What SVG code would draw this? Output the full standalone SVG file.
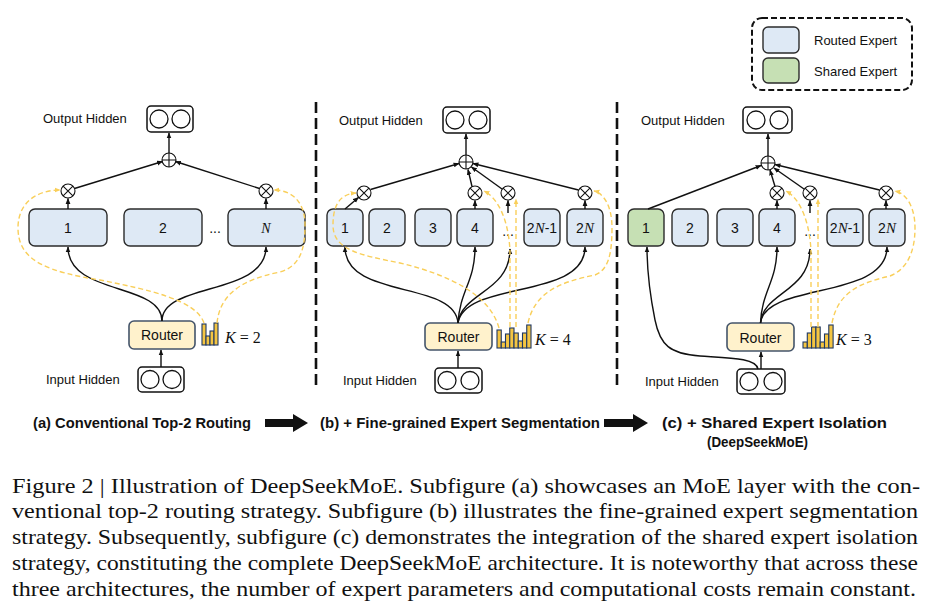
<svg xmlns="http://www.w3.org/2000/svg" width="943" height="616" viewBox="0 0 943 616">
<style>
.lbl{font-family:"Liberation Sans",Arial,sans-serif;font-size:13px;fill:#111}
.num{font-family:"Liberation Sans",Arial,sans-serif;font-size:14px;fill:#111;text-anchor:middle}
.math{font-family:"Liberation Serif","Times New Roman",serif;font-style:italic}
.mr{font-family:"Liberation Serif","Times New Roman",serif;font-size:16px;fill:#111}
.exp{fill:#dee9f5;stroke:#2b2b2b;stroke-width:1.4}
.shr{fill:#c6e0b4;stroke:#2b2b2b;stroke-width:1.4}
.rtr{fill:#fff2cc;stroke:#44546a;stroke-width:1.6}
.hid{fill:#fff;stroke:#111;stroke-width:1.5}
.circ{fill:#fff;stroke:#111;stroke-width:1.3}
.op{fill:#fff;stroke:#111;stroke-width:1.1}
.ln{fill:none;stroke:#111;stroke-width:1.4}
.ya{fill:none;stroke:#f9cf5a;stroke-width:1.4;stroke-dasharray:5 3}
.bar{fill:#f4c542;stroke:#1f3864;stroke-width:1.1}
.sep{stroke:#111;stroke-width:2.6;stroke-dasharray:11 5}
.bot{font-family:"Liberation Sans",Arial,sans-serif;font-size:15.5px;font-weight:bold;fill:#111}
.cap{font-family:"Liberation Serif","Times New Roman",serif;font-size:21.5px;fill:#111}
</style>
<defs>
<marker id="ah" viewBox="0 0 10 10" refX="9" refY="5" markerWidth="6" markerHeight="6" markerUnits="userSpaceOnUse" orient="auto"><path d="M0,1 L10,5 L0,9 z" fill="#111"/></marker>
<marker id="ay" viewBox="0 0 10 10" refX="9" refY="5" markerWidth="6" markerHeight="6" markerUnits="userSpaceOnUse" orient="auto"><path d="M0,1 L10,5 L0,9 z" fill="#f9cf5a"/></marker>
<g id="otimes"><circle r="7" class="op"/><path d="M-4.9,-4.9 L4.9,4.9 M-4.9,4.9 L4.9,-4.9" stroke="#111" stroke-width="1.1"/></g>
<g id="oplus"><circle r="7" class="op"/><path d="M-7,0 L7,0 M0,-7 L0,7" stroke="#111" stroke-width="1.1"/></g>
</defs>

<!-- separators -->
<line x1="316" y1="102" x2="316" y2="386" class="sep"/>
<line x1="617" y1="102" x2="617" y2="386" class="sep"/>

<!-- legend -->
<g id="legend">
<rect x="752" y="18" width="160" height="72" rx="10" fill="none" stroke="#111" stroke-width="2" stroke-dasharray="6 3"/>
<rect x="763" y="27" width="36" height="26" rx="5" class="exp"/>
<rect x="763" y="58" width="36" height="25" rx="5" class="shr"/>
<text x="814" y="45" class="lbl">Routed Expert</text>
<text x="814" y="76" class="lbl">Shared Expert</text>
</g>

<!-- ===== Panel (a) ===== -->
<g id="a-output"><text x="43" y="123" class="lbl">Output Hidden</text>
<rect x="147" y="106" width="46" height="26" rx="4" class="hid"/><circle cx="159" cy="119" r="9" class="circ"/><circle cx="181" cy="119" r="9" class="circ"/></g>
<g id="a-plus"><use href="#oplus" x="169" y="160"/></g>
<g id="a-mul1"><use href="#otimes" x="68" y="191"/></g>
<g id="a-mul2"><use href="#otimes" x="266" y="191"/></g>
<g id="a-e1"><rect x="29" y="209" width="78" height="37" rx="6" class="exp"/><text x="68" y="233" class="num">1</text></g>
<g id="a-e2"><rect x="124" y="209" width="78" height="37" rx="6" class="exp"/><text x="163" y="233" class="num">2</text></g>
<text x="215" y="233" class="num">...</text>
<g id="a-eN"><rect x="228" y="209" width="77" height="37" rx="6" class="exp"/><text x="266" y="233" class="num math" font-family="Liberation Serif" font-size="15">N</text></g>
<g id="a-router"><rect x="129" y="321" width="66" height="28" rx="5" class="rtr"/><text x="162" y="340" class="num">Router</text></g>
<g id="a-bars"><rect x="202" y="324" width="4" height="21" class="bar"/><rect x="206" y="336" width="4" height="9" class="bar"/><rect x="210" y="331" width="4" height="14" class="bar"/><rect x="214" y="323" width="4" height="22" class="bar"/></g>
<text x="225" y="343" class="mr"><tspan class="math">K</tspan> = 2</text>
<g id="a-input"><text x="46" y="384" class="lbl">Input Hidden</text>
<rect x="138" y="367" width="46" height="25" rx="4" class="hid"/><circle cx="150" cy="379.5" r="9" class="circ"/><circle cx="172" cy="379.5" r="9" class="circ"/></g>

<!-- ===== Panel (b) ===== -->
<g id="b-output"><text x="339" y="125" class="lbl">Output Hidden</text>
<rect x="443" y="107" width="47" height="26" rx="4" class="hid"/><circle cx="455" cy="120" r="9" class="circ"/><circle cx="478" cy="120" r="9" class="circ"/></g>
<g id="b-plus"><use href="#oplus" x="466" y="162"/></g>
<g id="b-mul1"><use href="#otimes" x="364" y="193"/></g>
<g id="b-mul4"><use href="#otimes" x="475" y="193"/></g>
<g id="b-muld"><use href="#otimes" x="508" y="193"/></g>
<g id="b-mul2N"><use href="#otimes" x="585" y="193"/></g>
<g id="b-e1"><rect x="327" y="209" width="36" height="37" rx="6" class="exp"/><text x="345" y="233" class="num">1</text></g>
<g id="b-e2"><rect x="369" y="209" width="36" height="37" rx="6" class="exp"/><text x="387" y="233" class="num">2</text></g>
<g id="b-e3"><rect x="415" y="209" width="36" height="37" rx="6" class="exp"/><text x="433" y="233" class="num">3</text></g>
<g id="b-e4"><rect x="457" y="209" width="36" height="37" rx="6" class="exp"/><text x="475" y="233" class="num">4</text></g>
<text x="508" y="236" class="num">...</text>
<g id="b-e2N-1"><rect x="524" y="209" width="36" height="37" rx="6" class="exp"/><text x="542" y="233" class="num">2<tspan class="math" font-family="Liberation Serif" font-size="15">N</tspan>-1</text></g>
<g id="b-e2N"><rect x="567" y="209" width="36" height="37" rx="6" class="exp"/><text x="585" y="233" class="num">2<tspan class="math" font-family="Liberation Serif" font-size="15">N</tspan></text></g>
<g id="b-router"><rect x="425" y="323" width="67" height="27" rx="5" class="rtr"/><text x="458.5" y="342" class="num">Router</text></g>
<g id="b-bars">
<rect x="497" y="330" width="4.25" height="18" class="bar"/><rect x="501.25" y="342" width="4.25" height="6" class="bar"/><rect x="505.5" y="334" width="4.25" height="14" class="bar"/><rect x="509.75" y="328" width="4.25" height="20" class="bar"/><rect x="514" y="333" width="4.25" height="15" class="bar"/><rect x="518.25" y="341" width="4.25" height="7" class="bar"/><rect x="522.5" y="333" width="4.25" height="15" class="bar"/><rect x="526.75" y="325" width="4.25" height="23" class="bar"/></g>
<text x="535" y="345" class="mr"><tspan class="math">K</tspan> = 4</text>
<g id="b-input"><text x="343" y="385" class="lbl">Input Hidden</text>
<rect x="435" y="368" width="47" height="25" rx="4" class="hid"/><circle cx="447" cy="380.5" r="9" class="circ"/><circle cx="470" cy="380.5" r="9" class="circ"/></g>

<!-- ===== Panel (c) ===== -->
<g id="c-output"><text x="641" y="125" class="lbl">Output Hidden</text>
<rect x="743" y="107" width="49" height="26" rx="4" class="hid"/><circle cx="756" cy="120" r="9" class="circ"/><circle cx="779" cy="120" r="9" class="circ"/></g>
<g id="c-plus"><use href="#oplus" x="768" y="163"/></g>
<g id="c-mul4"><use href="#otimes" x="777" y="193"/></g>
<g id="c-muld"><use href="#otimes" x="810" y="193"/></g>
<g id="c-mul2N"><use href="#otimes" x="886" y="193"/></g>
<g id="c-e1"><rect x="628" y="209" width="36" height="37" rx="6" class="shr"/><text x="646" y="233" class="num">1</text></g>
<g id="c-e2"><rect x="672" y="209" width="36" height="37" rx="6" class="exp"/><text x="690" y="233" class="num">2</text></g>
<g id="c-e3"><rect x="717" y="209" width="36" height="37" rx="6" class="exp"/><text x="735" y="233" class="num">3</text></g>
<g id="c-e4"><rect x="759" y="209" width="36" height="37" rx="6" class="exp"/><text x="777" y="233" class="num">4</text></g>
<text x="810" y="236" class="num">...</text>
<g id="c-e2N-1"><rect x="827" y="209" width="36" height="37" rx="6" class="exp"/><text x="845" y="233" class="num">2<tspan class="math" font-family="Liberation Serif" font-size="15">N</tspan>-1</text></g>
<g id="c-e2N"><rect x="869" y="209" width="36" height="37" rx="6" class="exp"/><text x="887" y="233" class="num">2<tspan class="math" font-family="Liberation Serif" font-size="15">N</tspan></text></g>
<g id="c-router"><rect x="727" y="323" width="67" height="28" rx="5" class="rtr"/><text x="760.5" y="343" class="num">Router</text></g>
<g id="c-bars">
<rect x="803" y="342" width="4.3" height="6" class="bar"/><rect x="807.3" y="333" width="4.3" height="15" class="bar"/><rect x="811.6" y="327" width="4.3" height="21" class="bar"/><rect x="815.9" y="327" width="4.3" height="21" class="bar"/><rect x="820.2" y="342" width="4.3" height="6" class="bar"/><rect x="824.5" y="334" width="4.3" height="14" class="bar"/><rect x="828.8" y="325" width="4.3" height="23" class="bar"/></g>
<text x="836" y="345" class="mr"><tspan class="math">K</tspan>  = 3</text>
<g id="c-input"><text x="645" y="386" class="lbl">Input Hidden</text>
<rect x="737" y="369" width="48" height="25" rx="4" class="hid"/><circle cx="749" cy="381.5" r="9" class="circ"/><circle cx="773" cy="381.5" r="9" class="circ"/></g>

<!-- ===== connectors ===== -->
<g id="connectors">
<!-- (a) -->
<path d="M161,367 L161,350" class="ln" marker-end="url(#ah)"/>
<path d="M162,321 C162,282 68,296 68,247" class="ln" marker-end="url(#ah)"/>
<path d="M162,321 C162,282 266,296 266,247" class="ln" marker-end="url(#ah)"/>
<path d="M68,209 L68,198.5" class="ln" marker-end="url(#ah)"/>
<path d="M266,209 L266,198.5" class="ln" marker-end="url(#ah)"/>
<path d="M74.5,188.5 L162.5,161.5" class="ln" marker-end="url(#ah)"/>
<path d="M259.5,188.5 L175.5,161.5" class="ln" marker-end="url(#ah)"/>
<path d="M169,153 L169,133" class="ln" marker-end="url(#ah)"/>
<path d="M204,323 C196,300 150,290 100,280 C50,272 18,262 18,228 C18,200 40,190 60,190" class="ya" marker-end="url(#ay)"/>
<path d="M217,323 C220,295 240,280 280,272 C300,266 305,250 305,225 C305,200 290,190 274,190" class="ya" marker-end="url(#ay)"/>
<!-- (b) -->
<path d="M458,368 L458,351" class="ln" marker-end="url(#ah)"/>
<path d="M458,323 C455,280 345,300 345,247" class="ln" marker-end="url(#ah)"/>
<path d="M458,323 C460,290 475,282 475,247" class="ln" marker-end="url(#ah)"/>
<path d="M458,323 C462,292 510,292 510,249" class="ln" marker-end="url(#ah)"/>
<path d="M458,323 C465,280 585,300 585,247" class="ln" marker-end="url(#ah)"/>
<path d="M345,209 L358.5,197.5" class="ln" marker-end="url(#ah)"/>
<path d="M475,209 L475,200.5" class="ln" marker-end="url(#ah)"/>
<path d="M508,213 L508,200.5" class="ln" marker-end="url(#ah)"/>
<path d="M585,209 L585,200.5" class="ln" marker-end="url(#ah)"/>
<path d="M370.5,189.5 L459,163.5" class="ln" marker-end="url(#ah)"/>
<path d="M472,186.5 L468,169.5" class="ln" marker-end="url(#ah)"/>
<path d="M502,189 L471.5,167" class="ln" marker-end="url(#ah)"/>
<path d="M578.5,190 L473,163.5" class="ln" marker-end="url(#ah)"/>
<path d="M466,155 L466,134" class="ln" marker-end="url(#ah)"/>
<path d="M499,328 C490,295 450,275 400,263 C360,255 333,250 333,225 C333,205 340,194 356,193" class="ya" marker-end="url(#ay)"/>
<path d="M510,327 L510,255 C510,230 502,200 484,191" class="ya" marker-end="url(#ay)"/>
<path d="M516,327 L516,199" class="ya" marker-end="url(#ay)"/>
<path d="M528,323 C535,292 560,282 595,275 C608,270 612,255 612,228 C612,205 603,193 594,191" class="ya" marker-end="url(#ay)"/>
<!-- (c) -->
<path d="M761,369 L761,352" class="ln" marker-end="url(#ah)"/>
<path d="M758,369 C756,358 730,358 700,356 C670,354 660,345 655,320 C650,295 647,270 647,247" class="ln" marker-end="url(#ah)"/>
<path d="M760.5,323 C762,290 777,282 777,247" class="ln" marker-end="url(#ah)"/>
<path d="M760.5,323 C763,292 810,292 810,249" class="ln" marker-end="url(#ah)"/>
<path d="M760.5,323 C765,282 887,300 887,247" class="ln" marker-end="url(#ah)"/>
<path d="M648,209 L761,165.5" class="ln" marker-end="url(#ah)"/>
<path d="M777,209 L777,200.5" class="ln" marker-end="url(#ah)"/>
<path d="M810,213 L810,200.5" class="ln" marker-end="url(#ah)"/>
<path d="M886,209 L886,200.5" class="ln" marker-end="url(#ah)"/>
<path d="M775,186.5 L770,170" class="ln" marker-end="url(#ah)"/>
<path d="M804,189 L774,168" class="ln" marker-end="url(#ah)"/>
<path d="M879.5,190 L775,164.5" class="ln" marker-end="url(#ah)"/>
<path d="M768,156 L768,134" class="ln" marker-end="url(#ah)"/>
<path d="M811,327 L811,255 C811,230 803,200 786,191" class="ya" marker-end="url(#ay)"/>
<path d="M818,327 L818,199" class="ya" marker-end="url(#ay)"/>
<path d="M832,323 C838,292 860,283 890,276 C905,270 915,255 915,228 C915,205 905,193 895,191" class="ya" marker-end="url(#ay)"/>
</g>

<!-- bottom labels -->
<g id="bottom-labels">
<text x="33" y="428" class="bot" textLength="218" lengthAdjust="spacingAndGlyphs">(a) Conventional Top-2 Routing</text>
<polygon points="265,419 293,419 293,414 308,423 293,432 293,427 265,427" fill="#111"/>
<text x="320" y="428" class="bot" textLength="280" lengthAdjust="spacingAndGlyphs">(b) + Fine-grained Expert Segmentation</text>
<polygon points="604,419 633,419 633,414 648,423 633,432 633,427 604,427" fill="#111"/>
<text x="662" y="428" class="bot" textLength="225" lengthAdjust="spacingAndGlyphs">(c) + Shared Expert Isolation</text>
<text x="707" y="447" class="bot" textLength="101" lengthAdjust="spacingAndGlyphs">(DeepSeekMoE)</text>
</g>

<!-- caption -->
<g id="caption">
<text x="12" y="493" class="cap" textLength="908" lengthAdjust="spacingAndGlyphs">Figure 2 | Illustration of DeepSeekMoE. Subfigure (a) showcases an MoE layer with the con-</text>
<text x="12" y="518" class="cap" textLength="906" lengthAdjust="spacingAndGlyphs">ventional top-2 routing strategy. Subfigure (b) illustrates the fine-grained expert segmentation</text>
<text x="12" y="544" class="cap" textLength="906" lengthAdjust="spacingAndGlyphs">strategy. Subsequently, subfigure (c) demonstrates the integration of the shared expert isolation</text>
<text x="12" y="570" class="cap" textLength="906" lengthAdjust="spacingAndGlyphs">strategy, constituting the complete DeepSeekMoE architecture. It is noteworthy that across these</text>
<text x="12" y="596" class="cap" textLength="904" lengthAdjust="spacingAndGlyphs">three architectures, the number of expert parameters and computational costs remain constant.</text>
</g>
</svg>
